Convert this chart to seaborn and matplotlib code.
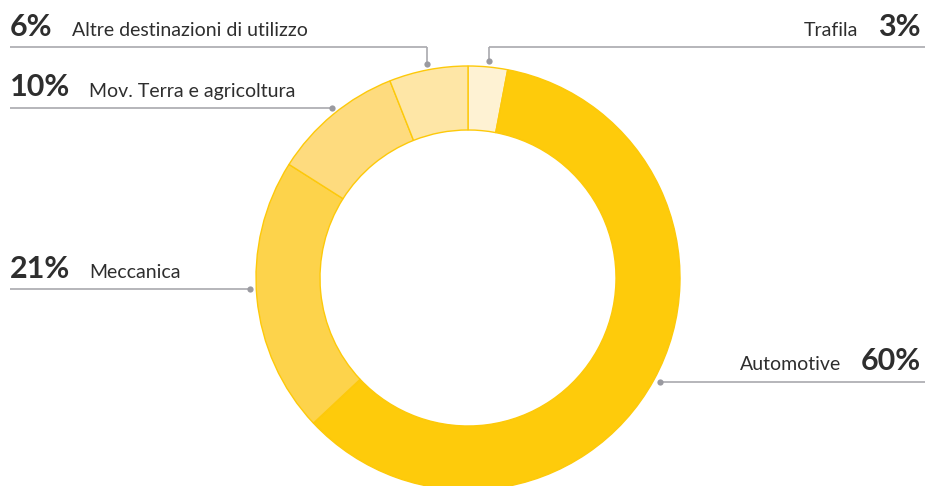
import numpy as np
import seaborn as sns
import matplotlib.pyplot as plt

# slices, clockwise from 12 o'clock
labels = ["Trafila", "Automotive", "Meccanica", "Mov. Terra e agricoltura", "Altre destinazioni di utilizzo"]
values = [3, 60, 21, 10, 6]
pct_text = ["3%", "60%", "21%", "10%", "6%"]
colors = ["#FEF2D3", "#FECB0B", "#FDD34B", "#FEDB7E", "#FEE6A6"]

sns.set_theme(style="white")
plt.rcParams["font.family"] = ["Lato", "DejaVu Sans"]

W, H = 925, 486
fig = plt.figure(figsize=(W / 100, H / 100), dpi=100)
ax = fig.add_axes([0, 0, 1, 1])

cx, cy, R = 468, H - 278, 212
wedges, _ = ax.pie(values, colors=colors, startangle=90, counterclock=False,
                   center=(cx, cy), radius=R,
                   wedgeprops=dict(width=R - 148, edgecolor="#FDC90A", linewidth=1))
ax.set_xlim(0, W)
ax.set_ylim(0, H)
ax.set_aspect("equal")
ax.axis("off")

line_c = "#A9A9AE"
txt_c = "#2E2E2E"
RA = 218

def mid_angle(i):
    frac = (sum(values[:i]) + values[i] / 2) / sum(values)
    return np.deg2rad(90 - 360 * frac)

# (line y in px from top, side, elbow?)
layout = {0: (47.5, "right", True), 1: (382, "right", False), 2: (289, "left", False),
          3: (108, "left", False), 4: (47.5, "left", True)}

for i, (ly_px, side, elbow) in layout.items():
    ly = H - ly_px
    if elbow:
        a = mid_angle(i)
        x0, y0 = cx + RA * np.cos(a), cy + RA * np.sin(a)
        ax.plot([x0, x0], [y0, ly], color=line_c, lw=1.2, solid_capstyle="butt")
    else:
        dx = np.sqrt(RA ** 2 - (ly - cy) ** 2)
        x0 = cx - dx if side == "left" else cx + dx
        y0 = ly
    xe = 10 if side == "left" else W
    ax.plot([xe, x0], [ly, ly], color=line_c, lw=1.2, solid_capstyle="butt")
    ax.plot(x0, y0, "o", color="#9A9AA0", ms=4.5, mec="none")
    tb = ly + 11.5
    if side == "left":
        t = ax.text(10, tb, pct_text[i], fontsize=22, fontweight="bold", color=txt_c, va="baseline", ha="left")
        fig.canvas.draw()
        bb = t.get_window_extent()
        ax.text(bb.x1 + 19, tb, labels[i], fontsize=14, color=txt_c, va="baseline", ha="left")
    else:
        t = ax.text(921, tb, pct_text[i], fontsize=22, fontweight="bold", color=txt_c, va="baseline", ha="right")
        fig.canvas.draw()
        bb = t.get_window_extent()
        ax.text(bb.x0 - 20, tb, labels[i], fontsize=14, color=txt_c, va="baseline", ha="right")

fig.savefig("out.png", dpi=100)
